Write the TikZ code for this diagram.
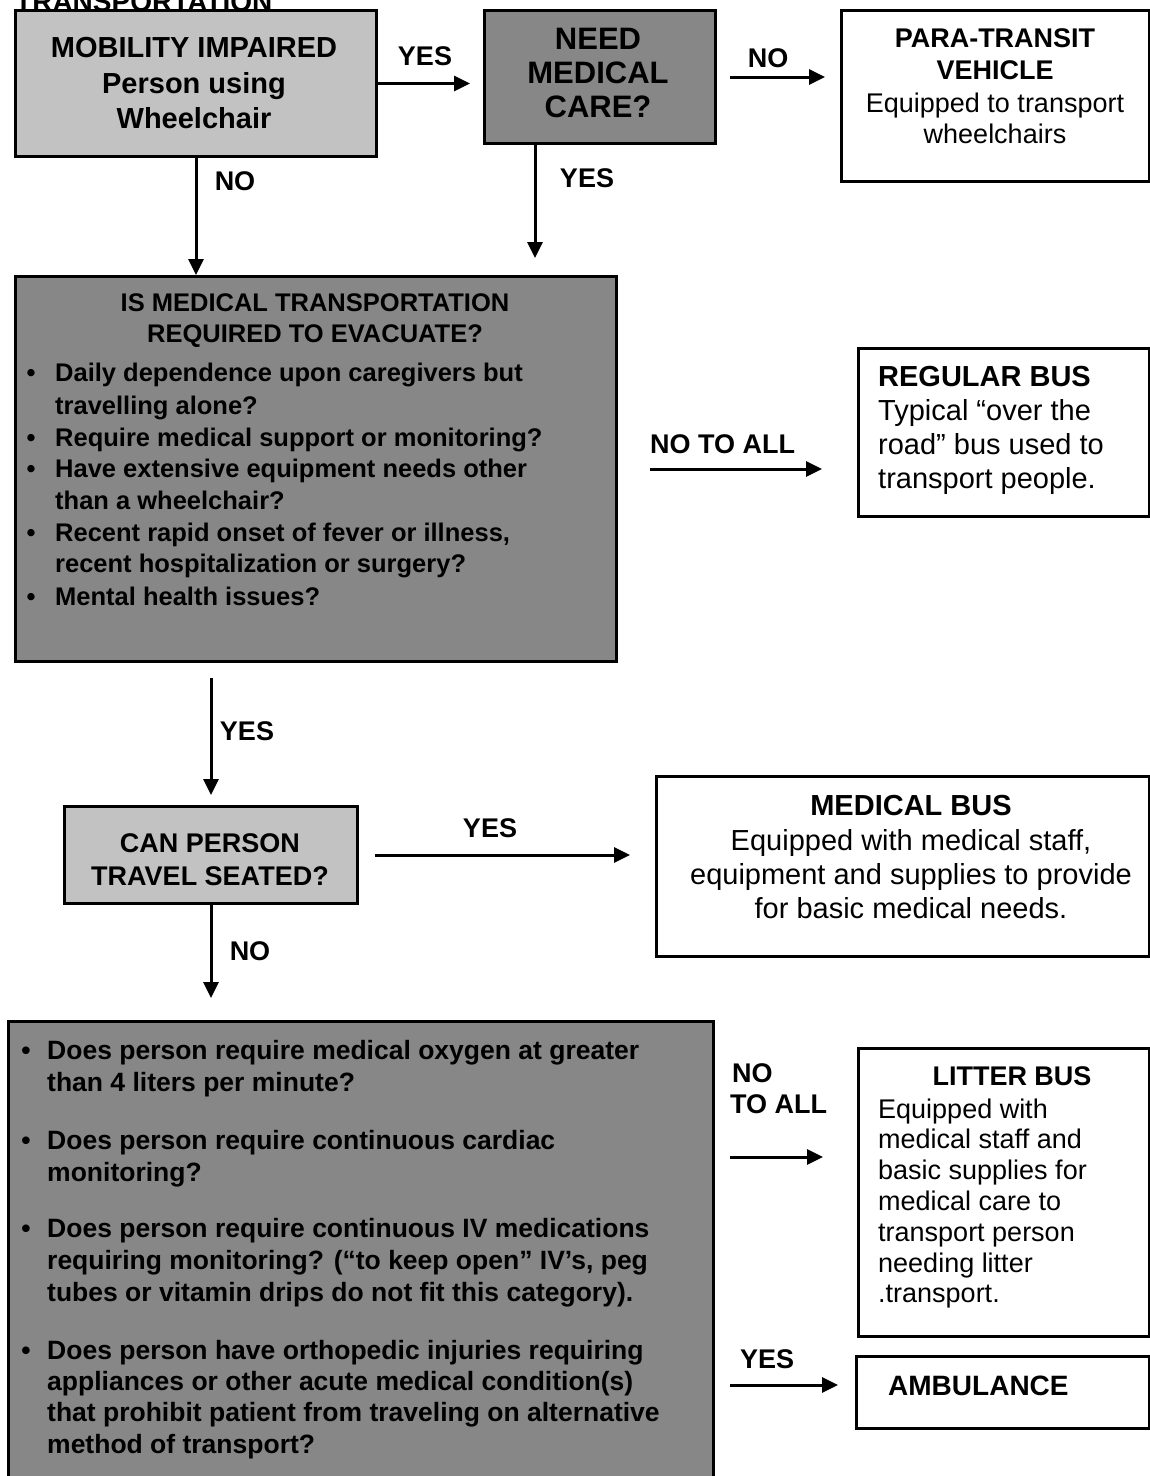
\documentclass[tikz,border=0pt]{standalone}
\usepackage{fontspec}
\setmainfont{Liberation Sans}
\usetikzlibrary{arrows.meta,calc}
\newcommand\myfs[1]{\fontsize{#1}{#1}\selectfont}
\definecolor{lightbox}{gray}{0.76}
\definecolor{darkbox}{gray}{0.53}
\begin{document}
\begin{tikzpicture}[x=1pt,y=-1pt,
 box/.style={draw, line width=3pt, anchor=north west, inner sep=0, rectangle},
 lbox/.style={box, fill=lightbox},
 dbox/.style={box, fill=darkbox},
 wbox/.style={box, fill=white},
 txt/.style={inner sep=0, anchor=base},
 ltxt/.style={inner sep=0, anchor=base west},
 lbl/.style={txt, font=\myfs{27}\bfseries},
 llbl/.style={ltxt, font=\myfs{27}\bfseries},
 arr/.style={line width=3pt, -{Triangle[length=16pt,width=15pt]}},
]
\useasboundingbox (0,0) rectangle (1150,1476);
\clip (0,0) rectangle (1150,1476);
\fill[white] (0,0) rectangle (1150,1476);

% heading, cut off by the top edge as in the reference
\node[ltxt, font=\myfs{28}\bfseries] (ttl) at (15,11) {TRANSPORTATION};

% boxes
\node[lbox, minimum width=361pt, minimum height=146pt] (b1) at (14,9) {};
\node[dbox, minimum width=231pt, minimum height=133pt] (b2) at (483,9) {};
\node[wbox, minimum width=308pt, minimum height=171pt] (b3) at (840,9) {};
\node[dbox, minimum width=601pt, minimum height=385pt] (b4) at (14,275) {};
\node[wbox, minimum width=291pt, minimum height=168pt] (b5) at (857,347) {};
\node[lbox, minimum width=293pt, minimum height=97pt] (b6) at (63,805) {};
\node[wbox, minimum width=493pt, minimum height=180pt] (b7) at (655,775) {};
\node[dbox, minimum width=705pt, minimum height=490pt] (b8) at (7,1020) {};
\node[wbox, minimum width=291pt, minimum height=288pt] (b9) at (857,1047) {};
\node[wbox, minimum width=293pt, minimum height=72pt] (b10) at (855,1355) {};

% box 1
\begin{scope}[every node/.append style={font=\myfs{29}\bfseries}]
\node[txt] (t1a) at (194,57) {MOBILITY IMPAIRED};
\node[txt] (t1b) at (194,93) {Person using};
\node[txt] (t1c) at (194,128) {Wheelchair};
\end{scope}
% box 2
\begin{scope}[every node/.append style={font=\myfs{31}\bfseries}]
\node[txt] (t2a) at (598,49) {NEED};
\node[txt] (t2b) at (598,83) {MEDICAL};
\node[txt] (t2c) at (598,117) {CARE?};
\end{scope}
% box 3
\begin{scope}[every node/.append style={font=\myfs{27}}]
\node[txt, font=\myfs{27}\bfseries] (t3a) at (995,47) {PARA-TRANSIT};
\node[txt, font=\myfs{27}\bfseries] (t3b) at (995,79) {VEHICLE};
\node[txt] (t3c) at (995,112) {Equipped to transport};
\node[txt] (t3d) at (995,143) {wheelchairs};
\end{scope}
% box 4
\begin{scope}[every node/.append style={font=\myfs{25.5}\bfseries}]
\node[txt] (t4a) at (315,311) {IS MEDICAL TRANSPORTATION};
\node[txt] (t4b) at (315,342) {REQUIRED TO EVACUATE?};
\node[txt] (u4a) at (31,381) {•};
\node[ltxt] (t4c) at (55,381) {Daily dependence upon caregivers but};
\node[ltxt] (t4d) at (55,414) {travelling alone?};
\node[txt] (u4b) at (31,446) {•};
\node[ltxt] (t4e) at (55,446) {Require medical support or monitoring?};
\node[txt] (u4c) at (31,477) {•};
\node[ltxt] (t4f) at (55,477) {Have extensive equipment needs other};
\node[ltxt] (t4g) at (55,509) {than a wheelchair?};
\node[txt] (u4d) at (31,541) {•};
\node[ltxt] (t4h) at (55,541) {Recent rapid onset of fever or illness,};
\node[ltxt] (t4i) at (55,572) {recent hospitalization or surgery?};
\node[txt] (u4e) at (31,605) {•};
\node[ltxt] (t4j) at (55,605) {Mental health issues?};
\end{scope}
% box 5
\begin{scope}[every node/.append style={font=\myfs{29}}]
\node[ltxt, font=\myfs{29}\bfseries] (t5a) at (878,386) {REGULAR BUS};
\node[ltxt] (t5b) at (878,420) {Typical “over the};
\node[ltxt] (t5c) at (878,454) {road” bus used to};
\node[ltxt] (t5d) at (878,488) {transport people.};
\end{scope}
% box 6
\begin{scope}[every node/.append style={font=\myfs{27}\bfseries}]
\node[txt] (t6a) at (210,852) {CAN PERSON};
\node[txt] (t6b) at (210,885) {TRAVEL SEATED?};
\end{scope}
% box 7
\begin{scope}[every node/.append style={font=\myfs{29}}]
\node[txt, font=\myfs{29}\bfseries] (t7a) at (911,815) {MEDICAL BUS};
\node[txt] (t7b) at (911,850) {Equipped with medical staff,};
\node[txt] (t7c) at (911,884) {equipment and supplies to provide};
\node[txt] (t7d) at (911,918) {for basic medical needs.};
\end{scope}
% box 8
\begin{scope}[every node/.append style={font=\myfs{26.5}\bfseries}]
\node[txt] (u8a) at (26,1059) {•};
\node[ltxt] (t8a) at (47,1059) {Does person require medical oxygen at greater};
\node[ltxt] (t8b) at (47,1091) {than 4 liters per minute?};
\node[txt] (u8b) at (26,1149) {•};
\node[ltxt] (t8c) at (47,1149) {Does person require continuous cardiac};
\node[ltxt] (t8d) at (47,1181) {monitoring?};
\node[txt] (u8c) at (26,1237) {•};
\node[ltxt] (t8e) at (47,1237) {Does person require continuous IV medications};
\node[ltxt] (t8f) at (47,1269) {requiring monitoring? (“to keep open” IV’s, peg};
\node[ltxt] (t8g) at (47,1301) {tubes or vitamin drips do not fit this category).};
\node[txt] (u8d) at (26,1359) {•};
\node[ltxt] (t8h) at (47,1359) {Does person have orthopedic injuries requiring};
\node[ltxt] (t8i) at (47,1390) {appliances or other acute medical condition(s)};
\node[ltxt] (t8j) at (47,1421) {that prohibit patient from traveling on alternative};
\node[ltxt] (t8k) at (47,1453) {method of transport?};
\end{scope}
% box 9
\begin{scope}[every node/.append style={font=\myfs{27}}]
\node[txt, font=\myfs{27}\bfseries] (t9a) at (1012,1085) {LITTER BUS};
\node[ltxt] (t9b) at (878,1118) {Equipped with};
\node[ltxt] (t9c) at (878,1148) {medical staff and};
\node[ltxt] (t9d) at (878,1179) {basic supplies for};
\node[ltxt] (t9e) at (878,1210) {medical care to};
\node[ltxt] (t9f) at (878,1241) {transport person};
\node[ltxt] (t9g) at (878,1272) {needing litter};
\node[ltxt] (t9h) at (878,1302) {.transport.};
\end{scope}
% box 10
\node[ltxt, font=\myfs{28}\bfseries] (t10) at (888,1395) {AMBULANCE};

% connectors
\draw[arr, shorten >=13pt] (b1.east) -- (b1.east -| b2.west);
\node[lbl] (l1) at (425,65) {YES};

\draw[arr, shorten <=13pt, shorten >=15pt] (b2.east) -- (b2.east -| b3.west);
\node[lbl] (l2) at (768,67) {NO};

\draw[arr] (b1.south) -- (b1.south |- b4.north);
\node[lbl] (l3) at (235,190) {NO};

\coordinate (c2s) at ($(b2.south west)+(52,0)$);
\draw[arr, shorten >=17pt] (c2s) -- (c2s |- b4.north);
\node[lbl] (l4) at (587,187) {YES};

\draw[arr, shorten <=32pt, shorten >=35pt] (b4.east) -- (b4.east -| b5.west);
\node[llbl] (l5) at (650,453) {NO TO ALL};

\draw[arr, shorten <=15pt, shorten >=10pt] (b6.north |- b4.south) -- (b6.north);
\node[lbl] (l6) at (247,740) {YES};

\draw[arr, shorten <=16pt, shorten >=25pt] (b6.east) -- (b6.east -| b7.west);
\node[lbl] (l7) at (490,837) {YES};

\draw[arr, shorten >=22pt] (b6.south) -- (b6.south |- b8.north);
\node[lbl] (l8) at (250,960) {NO};

\coordinate (c9s) at ($(b8.north east)+(15,137)$);
\draw[arr, shorten >=34pt] (c9s) -- (c9s -| b9.west);
\node[llbl] (l9a) at (732,1082) {NO};
\node[llbl] (l9b) at (730,1113) {TO ALL};

\coordinate (c10s) at ($(b8.north east)+(15,365)$);
\draw[arr, shorten >=17pt] (c10s) -- (c10s -| b10.west);
\node[llbl] (l10) at (740,1368) {YES};
\end{tikzpicture}
\end{document}
